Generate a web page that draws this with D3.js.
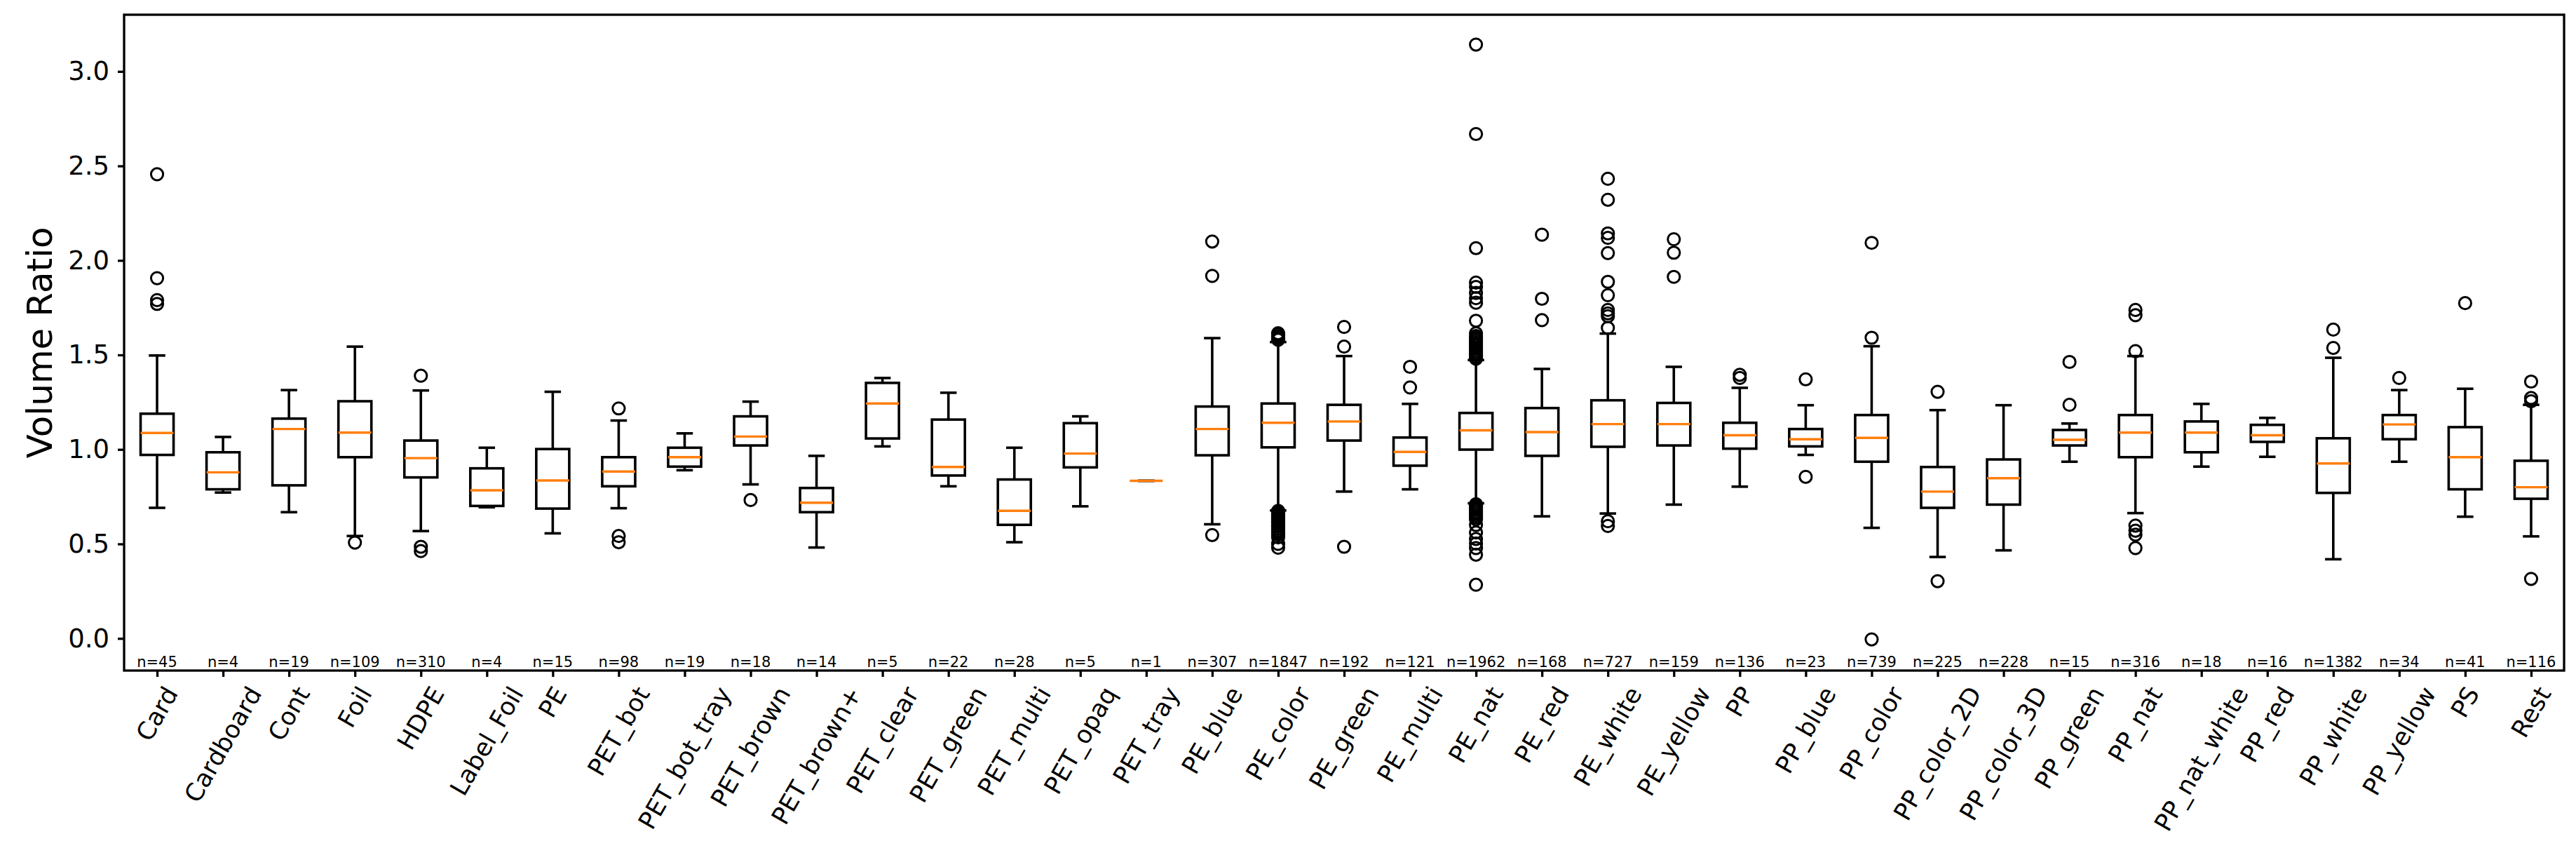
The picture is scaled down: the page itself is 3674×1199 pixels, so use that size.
<!DOCTYPE html>
<html>
<head>
<meta charset="utf-8">
<script src="https://cdn.jsdelivr.net/npm/d3@7"></script>
<style>
  html, body { margin: 0; padding: 0; background: #fff; }
  svg { display: block; font-family: "DejaVu Sans", sans-serif; }
</style>
</head>
<body>
<svg id="chart" width="3674" height="1199"></svg>
<script>
const categories = ["Card","Cardboard","Cont","Foil","HDPE","Label_Foil","PE","PET_bot","PET_bot_tray","PET_brown","PET_brown+","PET_clear","PET_green","PET_multi","PET_opaq","PET_tray","PE_blue","PE_color","PE_green","PE_multi","PE_nat","PE_red","PE_white","PE_yellow","PP","PP_blue","PP_color","PP_color_2D","PP_color_3D","PP_green","PP_nat","PP_nat_white","PP_red","PP_white","PP_yellow","PS","Rest"];
const counts = [45,4,19,109,310,4,15,98,19,18,14,5,22,28,5,1,307,1847,192,121,1962,168,727,159,136,23,739,225,228,15,316,18,16,1382,34,41,116];
const whiskerLow  = [0.691,0.772,0.668,0.542,0.568,0.694,0.556,0.689,0.890,0.815,0.481,1.016,0.805,0.509,0.699,0.834,0.604,0.677,0.777,0.789,0.715,0.646,0.661,0.708,0.803,0.971,0.585,0.431,0.466,0.935,0.663,0.909,0.961,0.419,0.935,0.644,0.540];
const q1Values    = [0.971,0.789,0.810,0.959,0.852,0.701,0.687,0.805,0.909,1.021,0.668,1.058,0.862,0.601,0.905,0.834,0.969,1.011,1.047,0.914,0.999,0.966,1.014,1.021,1.004,1.016,0.935,0.691,0.708,1.021,0.959,0.985,1.040,0.770,1.054,0.789,0.739];
const medianValues= [1.087,0.879,1.108,1.089,0.954,0.784,0.836,0.883,0.959,1.068,0.718,1.243,0.907,0.675,0.978,0.834,1.108,1.141,1.148,0.987,1.101,1.092,1.134,1.134,1.075,1.054,1.061,0.777,0.848,1.051,1.089,1.089,1.075,0.926,1.132,0.959,0.800];
const q3Values    = [1.189,0.985,1.163,1.255,1.047,0.900,1.002,0.959,1.009,1.175,0.796,1.352,1.158,0.841,1.139,0.834,1.227,1.243,1.236,1.063,1.193,1.219,1.260,1.246,1.141,1.108,1.182,0.907,0.947,1.103,1.182,1.148,1.130,1.059,1.182,1.118,0.940];
const whiskerHigh = [1.497,1.066,1.314,1.544,1.312,1.009,1.305,1.153,1.085,1.253,0.966,1.378,1.300,1.009,1.175,0.834,1.589,1.568,1.494,1.241,1.473,1.426,1.613,1.437,1.326,1.234,1.546,1.208,1.234,1.137,1.494,1.241,1.167,1.485,1.314,1.321,1.236];
const outlierValues = [
  [2.456,1.906,1.79,1.77],
  [],
  [],
  [0.507],
  [1.390,0.485,0.462],
  [],
  [],
  [1.217,0.542,0.509],
  [],
  [0.732],
  [],
  [],
  [],
  [],
  [],
  [],
  [2.100,1.918,0.547],
  [1.58,1.59,1.60,1.61,1.615,0.675,0.67,0.665,0.66,0.655,0.65,0.645,0.64,0.635,0.63,0.625,0.62,0.615,0.61,0.60,0.595,0.59,0.58,0.57,0.56,0.55,0.535,0.50,0.48],
  [1.648,1.544,0.485],
  [1.437,1.328],
  [3.142,2.669,2.065,1.883,1.86,1.828,1.80,1.776,1.681,1.615,1.60,1.59,1.58,1.57,1.56,1.55,1.54,1.53,1.52,1.51,1.50,1.49,1.48,0.71,0.70,0.69,0.68,0.67,0.66,0.65,0.64,0.63,0.60,0.561,0.526,0.502,0.478,0.443,0.284],
  [2.136,1.797,1.684],
  [2.432,2.321,2.143,2.119,2.039,1.887,1.816,1.738,1.72,1.705,1.643,0.620,0.595],
  [2.112,2.041,1.913],
  [1.395,1.378],
  [1.371,0.855],
  [2.093,1.591,-0.005],
  [1.305,0.303],
  [],
  [1.463,1.236],
  [1.738,1.710,1.520,0.597,0.570,0.549,0.478],
  [],
  [],
  [1.634,1.537],
  [1.378],
  [1.774],
  [1.359,1.272,1.255,0.315]
];
const yTicks = [0.0,0.5,1.0,1.5,2.0,2.5,3.0];
const yDomain = [-0.17, 3.30];
const yLabel = "Volume Ratio";

const W = 3674, H = 1199;
const plot = {left: 177, right: 3657, top: 21, bottom: 956};
const svg = d3.select("#chart");

const x = d3.scaleLinear().domain([0.5, categories.length + 0.5]).range([plot.left, plot.right]);
const y = d3.scaleLinear().domain(yDomain).range([plot.bottom, plot.top]);

const boxW = x(1.25) - x(1.0);
const capW = x(1.125) - x(1.0);
const BLACK = "#000";
const ORANGE = "#ff7f0e";

const g = svg.append("g");
categories.forEach((c, i) => {
  const cx = x(i + 1);
  const grp = g.append("g");
  grp.append("line").attr("x1", cx).attr("x2", cx).attr("y1", y(q1Values[i])).attr("y2", y(whiskerLow[i]))
    .attr("stroke", BLACK).attr("stroke-width", 3.6);
  grp.append("line").attr("x1", cx).attr("x2", cx).attr("y1", y(q3Values[i])).attr("y2", y(whiskerHigh[i]))
    .attr("stroke", BLACK).attr("stroke-width", 3.6);
  [whiskerLow[i], whiskerHigh[i]].forEach(v => {
    grp.append("line").attr("x1", cx - capW).attr("x2", cx + capW).attr("y1", y(v)).attr("y2", y(v))
      .attr("stroke", BLACK).attr("stroke-width", 3.6);
  });
  grp.append("rect").attr("x", cx - boxW).attr("width", 2 * boxW)
    .attr("y", y(q3Values[i])).attr("height", Math.max(0, y(q1Values[i]) - y(q3Values[i])))
    .attr("fill", "none").attr("stroke", BLACK).attr("stroke-width", 3.6);
  grp.append("line").attr("x1", cx - boxW).attr("x2", cx + boxW).attr("y1", y(medianValues[i])).attr("y2", y(medianValues[i]))
    .attr("stroke", ORANGE).attr("stroke-width", 3.4);
  outlierValues[i].forEach(v => {
    grp.append("circle").attr("cx", cx).attr("cy", y(v)).attr("r", 8.6)
      .attr("fill", "none").attr("stroke", BLACK).attr("stroke-width", 3.0);
  });
  grp.append("text").attr("x", cx).attr("y", plot.bottom - 5)
    .attr("text-anchor", "middle").attr("font-size", 21).attr("fill", BLACK)
    .text("n=" + counts[i]);
});

svg.append("rect").attr("x", plot.left).attr("y", plot.top)
  .attr("width", plot.right - plot.left).attr("height", plot.bottom - plot.top)
  .attr("fill", "none").attr("stroke", BLACK).attr("stroke-width", 3.3);

const yAxis = d3.axisLeft(y).tickValues(yTicks).tickFormat(d3.format(".1f")).tickSize(9).tickPadding(12);
const yg = svg.append("g").attr("transform", `translate(${plot.left},0)`).call(yAxis);
yg.select(".domain").remove();
yg.selectAll(".tick line").attr("stroke", BLACK).attr("stroke-width", 3.3);
yg.selectAll(".tick text").attr("font-size", 37).attr("font-family", "DejaVu Sans").attr("fill", BLACK);

const xAxis = d3.axisBottom(x).tickValues(d3.range(1, categories.length + 1)).tickFormat("").tickSize(9);
const xg = svg.append("g").attr("transform", `translate(0,${plot.bottom})`).call(xAxis);
xg.select(".domain").remove();
xg.selectAll(".tick line").attr("stroke", BLACK).attr("stroke-width", 3.3);

const fx = 35;
const labelTop = plot.bottom + 9 + 7;
const sin60 = Math.sin(Math.PI / 3), cos60 = Math.cos(Math.PI / 3);
categories.forEach((c, i) => {
  const cx = x(i + 1);
  const t = svg.append("text").attr("font-size", fx).attr("fill", BLACK)
    .attr("text-anchor", "middle").text(c);
  const L = t.node().getComputedTextLength();
  const h = 1.164 * fx;
  const bh = L * sin60 + h * cos60;
  const cy = labelTop + bh / 2;
  t.attr("x", cx).attr("y", cy + 0.346 * fx)
    .attr("transform", `rotate(-60, ${cx}, ${cy})`);
});

svg.append("text").attr("font-size", 50).attr("fill", BLACK).attr("text-anchor", "middle")
  .attr("transform", `translate(74, ${(plot.top + plot.bottom) / 2}) rotate(-90)`)
  .text(yLabel);
</script>
</body>
</html>
